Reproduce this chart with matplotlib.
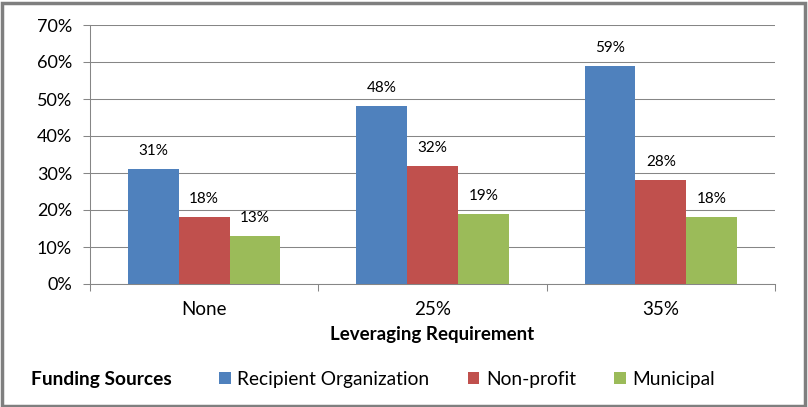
import matplotlib
matplotlib.use("Agg")
import matplotlib.pyplot as plt
import numpy as np
from matplotlib.patches import Rectangle

categories = ["None", "25%", "35%"]
series_names = ["Recipient Organization", "Non-profit", "Municipal"]
recipient = [0.31, 0.48, 0.59]
nonprofit = [0.18, 0.32, 0.28]
municipal = [0.13, 0.19, 0.18]
yticks = [0.0, 0.1, 0.2, 0.3, 0.4, 0.5, 0.6, 0.7]
colors = ["#4F81BD", "#C0504D", "#9BBB59"]

plt.rcParams['font.family'] = ['Lato', 'DejaVu Sans']

W, H = 808, 407
fig = plt.figure(figsize=(W / 100, H / 100), dpi=100)
ax = fig.add_axes([90 / W, 1 - 284 / H, (775 - 90) / W, (284 - 25) / H])

grid_c = "#868686"
x = np.arange(len(categories))
w = 1 / 4.5
bars = []
for i, (vals, name) in enumerate(zip([recipient, nonprofit, municipal], series_names)):
    b = ax.bar(x + (i - 1) * w, vals, width=w, color=colors[i], label=name, zorder=3)
    bars.append(b)
    for xi, v in zip(x + (i - 1) * w, vals):
        ax.annotate(f"{round(v * 100)}%", (xi, v), xytext=(0, 13), textcoords="offset points",
                    ha="center", va="center", fontsize=11, color="#000000")

ax.set_xlim(-0.5, 2.5)
ax.set_ylim(0, 0.7)
ax.set_yticks(yticks)
ax.set_yticklabels([f"{round(t * 100)}%" for t in yticks], fontsize=13)
ax.yaxis.grid(True, color=grid_c, linewidth=0.75, zorder=0)
ax.set_axisbelow(True)
ax.tick_params(axis="y", length=5, width=0.75, color=grid_c, pad=8)

ax.set_xticks(x)
ax.set_xticklabels(categories, fontsize=13.5)
ax.set_xticks([-0.5, 0.5, 1.5, 2.5], minor=True)
ax.tick_params(axis="x", which="major", length=0, pad=12)
ax.tick_params(axis="x", which="minor", length=5, width=0.75, color=grid_c)

for s in ["top", "right"]:
    ax.spines[s].set_visible(False)
for s in ["left", "bottom"]:
    ax.spines[s].set_color(grid_c)
    ax.spines[s].set_linewidth(0.75)

ax.set_xlabel("Leveraging Requirement", fontsize=13.5, fontweight="bold", labelpad=6)

fig.text(31 / W, 1 - 379 / H, "Funding Sources", fontsize=13.8, fontweight="bold",
         ha="left", va="center")
fig.legend(handles=bars, labels=series_names, loc="center left",
           bbox_to_anchor=(219 / W, 1 - 379 / H), ncol=3, frameon=False, fontsize=13.8,
           handlelength=0.6, handleheight=0.6, handletextpad=0.35, columnspacing=2.0,
           borderpad=0, borderaxespad=0)

fig.patches.append(Rectangle((1.5 / W, 1.5 / H), 1 - 5 / W, 1 - 4 / H, transform=fig.transFigure,
                             fill=False, edgecolor="#7F7F7F", linewidth=2.5))

fig.savefig("out.png", dpi=100)
